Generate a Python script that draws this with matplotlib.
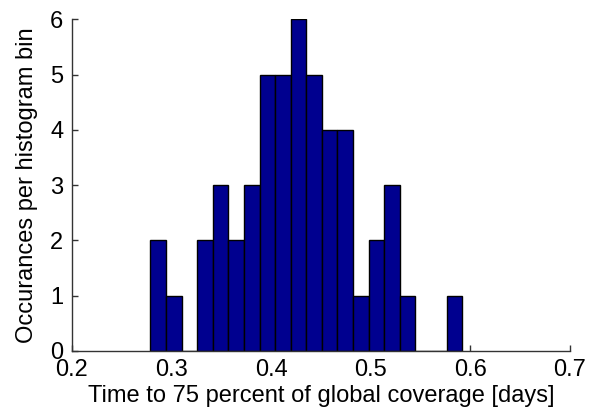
import matplotlib
matplotlib.use("Agg")
import matplotlib.pyplot as plt
import numpy as np

# histogram: 20 equal bins between these edges, counts
bin_lo = 0.2789
bin_hi = 0.5919
counts = [2, 1, 0, 2, 3, 2, 3, 5, 5, 6, 5, 4, 4, 1, 2, 3, 1, 0, 0, 1]
x_ticks = [0.2, 0.3, 0.4, 0.5, 0.6, 0.7]
y_ticks = [0, 1, 2, 3, 4, 5, 6]

plt.rcParams['font.family'] = ['Liberation Sans', 'DejaVu Sans']

edges = np.linspace(bin_lo, bin_hi, len(counts) + 1)
lefts = edges[:-1]
width = edges[1] - edges[0]

fig = plt.figure(figsize=(5.94, 4.18), dpi=100)
ax = fig.add_axes([0.1207, 0.1603, 0.8389, 0.7935])

ax.bar(lefts, counts, width=width, align='edge', color='#00008F',
       edgecolor='black', linewidth=1.0, zorder=2)

ax.set_xlim(0.2, 0.7)
ax.set_ylim(0, 6)
ax.set_xticks(x_ticks)
ax.set_xticklabels(['0.2', '0.3', '0.4', '0.5', '0.6', '0.7'])
ax.set_yticks(y_ticks)

ax.spines['top'].set_visible(False)
ax.spines['right'].set_visible(False)
for s in ['left', 'bottom']:
    ax.spines[s].set_color('#333333')
    ax.spines[s].set_linewidth(1.0)

ax.tick_params(direction='in', length=4, width=1.0, color='#333333',
               labelsize=17)
ax.tick_params(axis='x', pad=5.5)
ax.tick_params(axis='y', pad=6)
ax.set_axisbelow(True)

ax.set_xlabel('Time to 75 percent of global coverage [days]', fontsize=17, labelpad=3)
ax.set_ylabel('Occurances per histogram bin', fontsize=17, labelpad=9)

fig.savefig('out.png', dpi=100)
